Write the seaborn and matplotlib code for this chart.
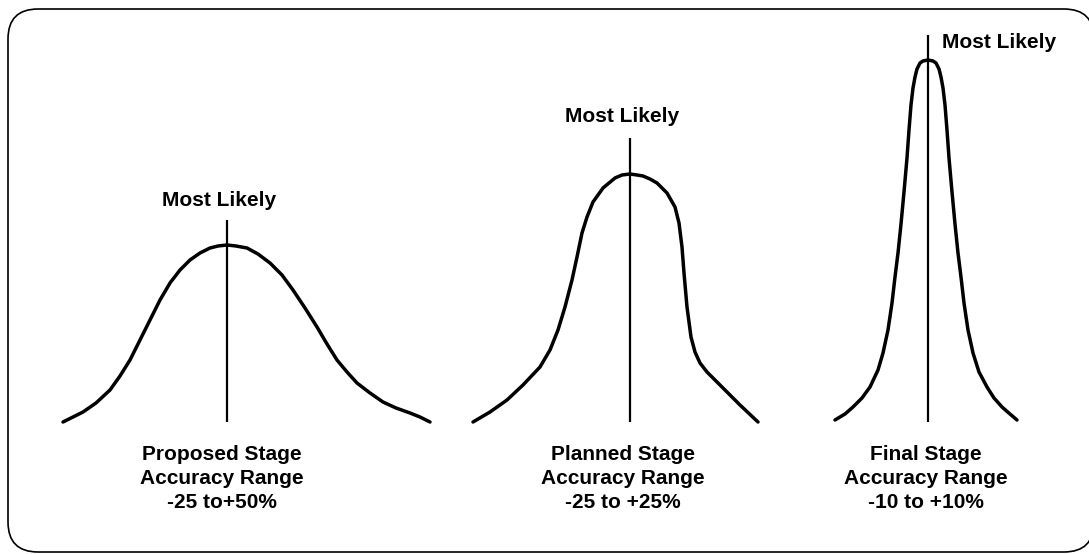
import matplotlib
matplotlib.use("Agg")
import matplotlib.pyplot as plt
from matplotlib.patches import FancyBboxPatch
import pandas as pd
import seaborn as sns

# curve outlines: x position, height above the common baseline
proposed_x = [63, 73, 83, 96, 110, 120, 130, 140, 150, 160, 170, 180, 190, 200, 210, 218, 227, 236,
              247, 258, 270, 282, 293, 305, 317, 327, 337, 347, 357, 370, 383, 396, 410, 420, 430]
proposed_h = [0, 5, 10, 19, 32, 46, 62, 82, 102, 122, 139, 152, 162, 169, 174, 176, 177, 176,
              174, 168, 159, 147, 132, 114, 95, 78, 62, 50, 39, 29, 20, 14, 9, 5, 0]

planned_x = [473, 490, 507, 523, 540, 550, 558, 565, 572, 577, 582, 587, 593, 603, 615, 622, 630,
             637, 643, 650, 657, 667, 675, 679, 682, 684, 687, 691, 695, 700, 707, 723, 740, 758]
planned_h = [0, 10, 22, 37, 55, 72, 92, 115, 142, 165, 189, 205, 220, 234, 244, 247, 248,
             247, 246, 243, 239, 229, 215, 199, 175, 149, 115, 85, 70, 59, 50, 34, 17, 0]

final_x = [835, 845, 853, 862, 870, 878, 883, 888, 892, 895, 898, 901, 904, 907, 909, 911, 913,
           915, 917, 920, 923, 928, 933, 936, 939, 941, 943, 945, 947, 949, 952, 955, 958,
           961, 964, 968, 973, 979, 987, 994, 1002, 1010, 1017]
final_h = [2, 8, 15, 24, 35, 52, 69, 92, 119, 145, 169, 198, 230, 264, 292, 317, 334,
           345, 353, 359, 361, 362, 361, 359, 353, 345, 334, 317, 292, 264, 230, 198, 169,
           145, 119, 92, 69, 50, 35, 24, 15, 8, 2]

# "most likely" markers
peak_x = [227, 630, 928]
peak_top = [202, 284, 387]

top_labels = ["Most Likely", "Most Likely", "Most Likely"]
stage_labels = [
    "Proposed Stage\nAccuracy Range\n-25 to+50%",
    "Planned Stage\nAccuracy Range\n-25 to +25%",
    "Final Stage\nAccuracy Range\n-10 to +10%",
]
stage_label_x = [222, 623, 926]

curves = pd.concat([
    pd.DataFrame({"x": proposed_x, "h": proposed_h, "stage": "Proposed"}),
    pd.DataFrame({"x": planned_x, "h": planned_h, "stage": "Planned"}),
    pd.DataFrame({"x": final_x, "h": final_h, "stage": "Final"}),
])

sns.set_theme(style="white")
plt.rcParams["font.family"] = ["Liberation Sans", "DejaVu Sans"]
plt.rcParams["text.color"] = "black"

fig = plt.figure(figsize=(10.89, 5.54), dpi=100)
ax = fig.add_axes([0, 0, 1, 1])
ax.set_xlim(0, 1089)
ax.set_ylim(-132, 422)
ax.set_axis_off()

border = FancyBboxPatch((8, -130), 1086, 543, boxstyle="round,pad=0,rounding_size=30",
                        facecolor="white", edgecolor="black", linewidth=1.2, zorder=0)
ax.add_patch(border)

for stage, part in curves.groupby("stage", sort=False):
    sns.lineplot(data=part, x="x", y="h", sort=False, estimator=None, color="black",
                 linewidth=2.5, ax=ax, legend=False,
                 solid_joinstyle="round", solid_capstyle="round")

ax.vlines(peak_x, 0, peak_top, color="black", linewidth=1.6)

ax.text(219, 222, top_labels[0], ha="center", va="center", fontsize=15, fontweight="bold")
ax.text(622, 305, top_labels[1], ha="center", va="center", fontsize=15, fontweight="bold")
ax.text(942, 380, top_labels[2], ha="left", va="center", fontsize=15, fontweight="bold")

line_h = [-33, -57, -80]
for cx, label in zip(stage_label_x, stage_labels):
    for yy, line in zip(line_h, label.split("\n")):
        ax.text(cx, yy, line, ha="center", va="center", fontsize=15, fontweight="bold")

ax.set_xlabel("")
ax.set_ylabel("")
fig.savefig("out.png", dpi=100)
